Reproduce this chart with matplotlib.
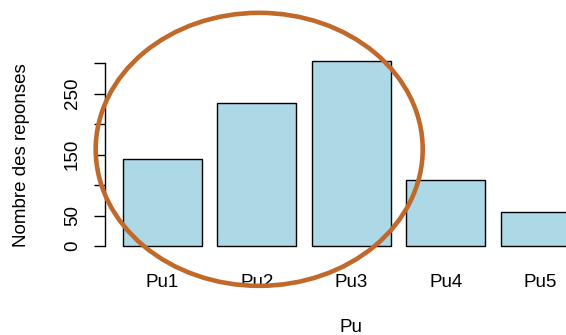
import matplotlib
matplotlib.use("Agg")
import matplotlib.pyplot as plt
from matplotlib.patches import Ellipse

plt.rcParams['font.family'] = ['Liberation Sans', 'DejaVu Sans']

categories = ["Pu1", "Pu2", "Pu3", "Pu4", "Pu5"]
counts = [142, 235, 303, 109, 56]
ytick_vals = [0, 50, 100, 150, 200, 250, 300]
ytick_labels = ["0", "50", "", "150", "", "250", ""]

W, H, dpi = 566, 335, 100
fig = plt.figure(figsize=(W / dpi, H / dpi), dpi=dpi)

# R barplot layout: width 1, space 0.2 -> usr x (-0.032, 6.232), y (-12.1, 315.1)
x0_px, x1_px = 104.7, 598.0
y0_px, y1_px = 253.4, 53.8
ax = fig.add_axes([x0_px / W, 1 - y0_px / H, (x1_px - x0_px) / W, (y0_px - y1_px) / H])
ax.set_xlim(-0.032, 6.232)
ax.set_ylim(-12.1, 315.1)
ax.patch.set_alpha(0)

lefts = [0.2 + 1.2 * i for i in range(len(counts))]
centers = [l + 0.5 for l in lefts]
ax.bar(centers, counts, width=1.0, color="#ADD8E6", edgecolor="black", linewidth=1.0, clip_on=False)

for s in ["top", "right", "bottom"]:
    ax.spines[s].set_visible(False)
ax.spines["left"].set_bounds(0, 300)
ax.spines["left"].set_linewidth(1.0)
ax.set_yticks(ytick_vals)
ax.set_yticklabels(ytick_labels, rotation=90, va="center", fontsize=13.5)
ax.tick_params(axis="y", length=8, width=1.0, pad=9)

ax.set_xticks(centers)
ax.set_xticklabels(categories, fontsize=13.5)
ax.tick_params(axis="x", length=0, pad=15)

fig.text(351 / W, 1 - 327 / H, "Pu", ha="center", va="center", fontsize=13.5)
fig.text(22 / W, 1 - 155 / H, "Nombre des reponses", rotation=90, ha="center", va="center", fontsize=13.5)

# ellipse overlay
ell = Ellipse((1.93, 158.5), width=327 / 78.75, height=273 / 0.61,
              fill=False, edgecolor="#C0692B", linewidth=3.3, clip_on=False, zorder=5)
ax.add_patch(ell)

fig.savefig("out.png", dpi=dpi)
